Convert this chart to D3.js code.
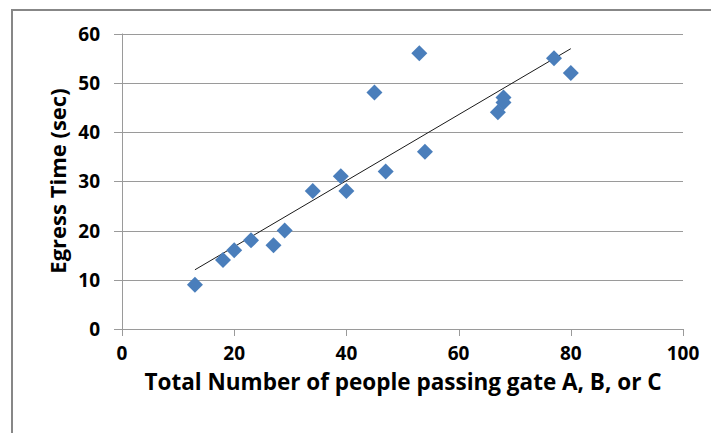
<!DOCTYPE html>
<html>
<head>
<meta charset="utf-8">
<script src="https://cdn.jsdelivr.net/npm/d3@7"></script>
<style>
  html, body { margin: 0; padding: 0; background: #fff; }
  svg { display: block; }
  text { font-family: "Open Sans", Lato, sans-serif; font-weight: bold; fill: #000; }
</style>
</head>
<body>
<svg id="chart" width="711" height="433"></svg>
<script>
// Data
const peopleCount = [13, 18, 20, 23, 27, 29, 34, 39, 40, 45, 47, 53, 54, 67, 68, 68, 77, 80];
const egressTime  = [9, 14, 16, 18, 17, 20, 28, 31, 28, 48, 32, 56, 36, 44, 46, 47, 55, 52];
const xTicks = [0, 20, 40, 60, 80, 100];
const yTicks = [0, 10, 20, 30, 40, 50, 60];
const xTitle = "Total Number of people passing gate A, B, or C";
const yTitle = "Egress Time (sec)";

const svg = d3.select("#chart");

// outer chart frame
svg.append("rect")
  .attr("x", 12).attr("y", 10).attr("width", 760).attr("height", 480)
  .attr("fill", "#fff").attr("stroke", "#878787").attr("stroke-width", 2);

const x = d3.scaleLinear().domain([0, 100]).range([122, 683]);
const y = d3.scaleLinear().domain([0, 60]).range([329, 33.5]);

// horizontal gridlines (with outward tick stub)
svg.append("g").selectAll("line").data(yTicks).join("line")
  .attr("x1", 114).attr("x2", x(100))
  .attr("y1", d => Math.round(y(d)) + 0.5).attr("y2", d => Math.round(y(d)) + 0.5)
  .attr("stroke", "#9a9a9a").attr("stroke-width", 1);

// vertical axis line
svg.append("line")
  .attr("x1", Math.round(x(0)) + 0.5).attr("x2", Math.round(x(0)) + 0.5)
  .attr("y1", y(60)).attr("y2", y(0))
  .attr("stroke", "#9a9a9a");

// x ticks (downward)
svg.append("g").selectAll("line").data(xTicks).join("line")
  .attr("x1", d => Math.round(x(d)) + 0.5).attr("x2", d => Math.round(x(d)) + 0.5)
  .attr("y1", y(0)).attr("y2", y(0) + 7)
  .attr("stroke", "#9a9a9a");

// tick labels
svg.append("g").selectAll("text").data(yTicks).join("text")
  .attr("x", 100).attr("y", d => y(d))
  .attr("text-anchor", "end").attr("dominant-baseline", "central")
  .style("font-size", "19px")
  .text(d => d);

svg.append("g").selectAll("text").data(xTicks).join("text")
  .attr("x", d => x(d)).attr("y", 353)
  .attr("text-anchor", "middle").attr("dominant-baseline", "central")
  .style("font-size", "19px")
  .text(d => d);

// axis titles
svg.append("text")
  .attr("x", 403).attr("y", 390)
  .attr("text-anchor", "middle")
  .style("font-size", "22.5px")
  .text(xTitle);

svg.append("text")
  .attr("transform", "translate(66,181) rotate(-90)")
  .attr("text-anchor", "middle")
  .style("font-size", "22px")
  .text(yTitle);

// linear trendline (least squares of the data)
const n = peopleCount.length;
const mx = d3.mean(peopleCount), my = d3.mean(egressTime);
let sxy = 0, sxx = 0;
for (let i = 0; i < n; i++) {
  sxy += (peopleCount[i] - mx) * (egressTime[i] - my);
  sxx += (peopleCount[i] - mx) ** 2;
}
const slope = sxy / sxx, intercept = my - slope * mx;
const x0 = d3.min(peopleCount), x1 = d3.max(peopleCount);
svg.append("line")
  .attr("x1", x(x0)).attr("y1", y(intercept + slope * x0))
  .attr("x2", x(x1)).attr("y2", y(intercept + slope * x1))
  .attr("stroke", "#1a1a1a").attr("stroke-width", 1);

// diamond markers
const pts = peopleCount.map((v, i) => ({ px: v, py: egressTime[i] }));
const r = 8;
svg.append("g").selectAll("path").data(pts).join("path")
  .attr("d", d => {
    const cx = x(d.px), cy = y(d.py);
    return `M${cx},${cy - r}L${cx + r},${cy}L${cx},${cy + r}L${cx - r},${cy}Z`;
  })
  .attr("fill", "#4a7ebb");
</script>
</body>
</html>
